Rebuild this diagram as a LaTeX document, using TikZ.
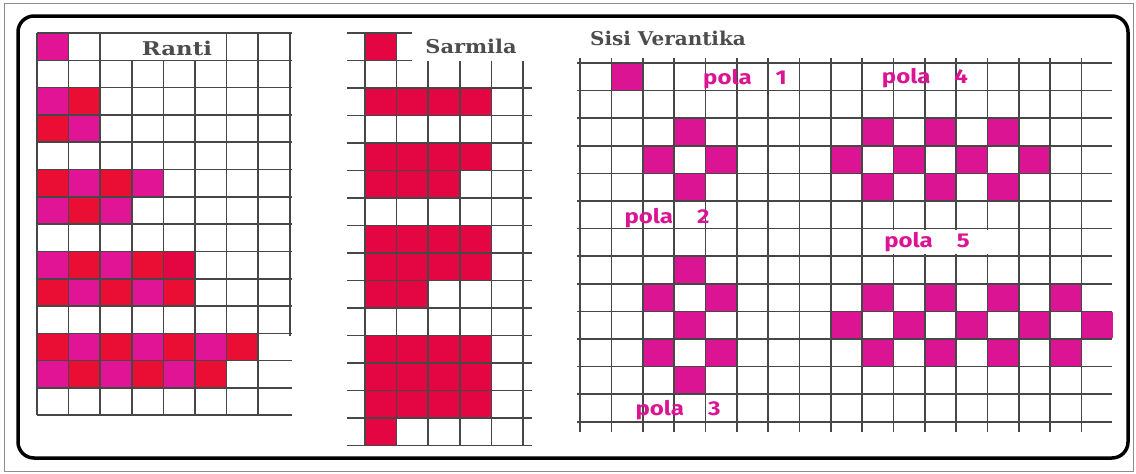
\documentclass[tikz,border=0pt]{standalone}
\usepackage{fontspec}
\newfontfamily\titlefont{DejaVu Serif}
\newfontfamily\handfont{Fira Sans}
\definecolor{pinkm}{RGB}{226,20,150}
\definecolor{redr}{RGB}{234,14,52}
\definecolor{crim}{RGB}{228,6,66}
\definecolor{sisim}{RGB}{218,20,146}
\newcommand{\wide}[1]{\scalebox{1.2}[1]{#1}}

\begin{document}
\begin{tikzpicture}[x=1pt,y=-1pt,
  gridline/.style={line width=1.6pt,draw=black!72},
  title/.style={font=\titlefont\bfseries\fontsize{19}{22}\selectfont,text=black!70,inner sep=1pt},
  hand/.style={font=\handfont\bfseries\fontsize{20}{23}\selectfont,text=sisim,inner sep=1pt}]
\useasboundingbox (0,0) rectangle (1136,474);
% frames
\draw[black!45,line width=.8pt] (4,3) rectangle (1133,471);
\draw[line width=3.5pt,rounded corners=16pt] (18,16) rectangle (1128,458);

% Ranti
\foreach \c/\r/\col in {0/0/pinkm,0/2/pinkm,1/2/redr,0/3/redr,1/3/pinkm,
    0/5/redr,1/5/pinkm,2/5/redr,3/5/pinkm,0/6/pinkm,1/6/redr,2/6/pinkm,
    0/8/pinkm,1/8/redr,2/8/pinkm,3/8/redr,4/8/crim,0/9/redr,1/9/pinkm,2/9/redr,3/9/pinkm,4/9/redr,
    0/11/redr,1/11/pinkm,2/11/redr,3/11/pinkm,4/11/redr,5/11/pinkm,6/11/redr,
    0/12/pinkm,1/12/redr,2/12/pinkm,3/12/redr,4/12/pinkm,5/12/redr}
  \fill[\col,rounded corners=2pt] ({37+31.6*\c},{33+27.3*\r}) rectangle ++(31.6,27.3);
\foreach \r in {0,...,14}
  \draw[gridline] (37,{33+27.3*\r}) -- ++(255,0);
\foreach \c in {0,1,2,6,7}
  \draw[gridline] ({37+31.6*\c},33) -- (37+31.6*\c,415);
\foreach \c in {3,4,5}
  \draw[gridline] ({37+31.6*\c},60.3) -- (37+31.6*\c,415);
\draw[gridline] (290,33) -- (290,336);
\node[title] (ranti) at (177,48) {\wide{Ranti}};

% Sarmila
\foreach \r/\n in {0/0,2/3,4/3,5/2,7/3,8/3,9/1,11/3,12/3,13/3,14/0}
  \foreach \c in {0,...,\n}
    \fill[crim,rounded corners=1pt] ({365+31.6*\c},{33+27.5*\r}) rectangle ++(31.6,27.5);
\foreach \r in {0,1}
  \draw[gridline] (347,{33+27.5*\r}) -- (412,33+27.5*\r);
\foreach \r in {2,...,15}
  \draw[gridline] (347,{33+27.5*\r}) -- (532,33+27.5*\r);
\foreach \c in {0,1}
  \draw[gridline] ({365+31.6*\c},33) -- (365+31.6*\c,446);
\foreach \c in {2,...,5}
  \draw[gridline] ({365+31.6*\c},60.5) -- (365+31.6*\c,446);
\node[title] (sarmila) at (471,46) {\scalebox{1.1}[1]{Sarmila}};

% Sisi Verantika
\foreach \c/\r in {1/0, 3/2,2/3,4/3,3/4, 3/7,2/8,4/8,3/9,2/10,4/10,3/11,
    9/2,11/2,13/2,8/3,10/3,12/3,14/3,9/4,11/4,13/4,
    9/8,11/8,13/8,15/8,8/9,10/9,12/9,14/9,16/9,9/10,11/10,13/10,15/10}
  \fill[sisim,rounded corners=1.5pt] ({580+31.35*\c},{63+27.6*\r}) rectangle ++(31.35,27.6);
\foreach \r in {0,...,13}
  \draw[gridline] (577,{63+27.6*\r}) -- (1112,63+27.6*\r);
\foreach \c in {0,...,16}
  \draw[gridline] ({580+31.35*\c},58) -- (580+31.35*\c,432);
\node[title] (sisi) at (668,38) {\scalebox{1.05}[1]{Sisi Verantika}};

\node[hand] (pola1) at (745,79) {\wide{pola\quad 1}};
\node[hand] (pola2) at (667,218) {\wide{pola\quad 2}};
\node[hand] (pola3) at (678,410) {\wide{pola\quad 3}};
\node[hand] (pola4) at (925,78) {\wide{pola\quad 4}};
\node[hand,fill=white,minimum width=128pt,minimum height=24pt] (pola5) at (927,242) {\wide{pola\quad 5}};
\end{tikzpicture}
\end{document}
